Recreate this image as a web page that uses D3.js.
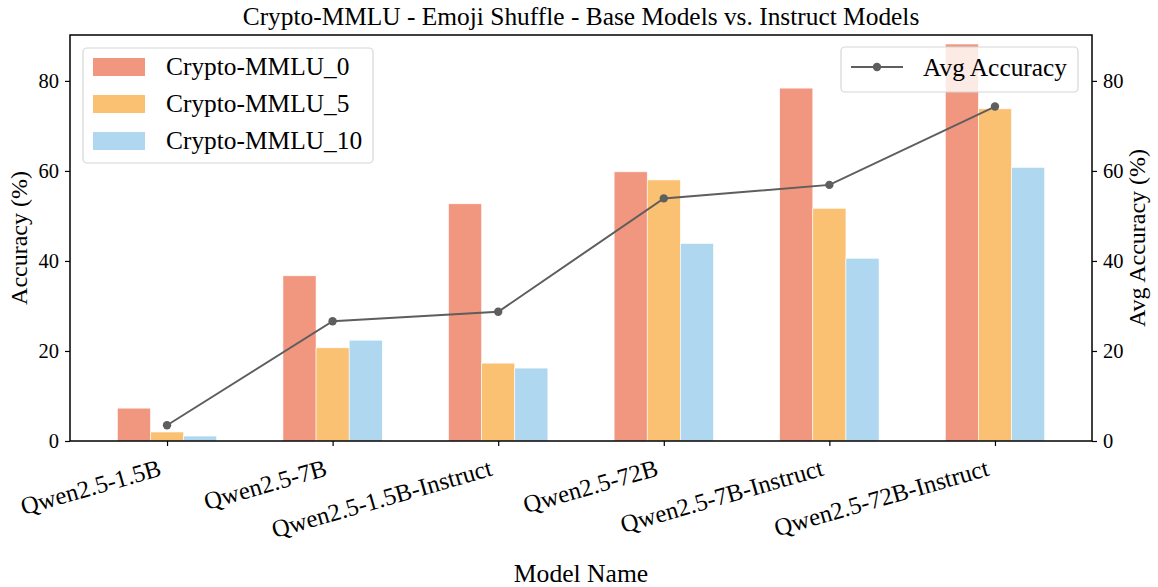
<!DOCTYPE html>
<html>
<head>
<meta charset="utf-8">
<script src="https://cdn.jsdelivr.net/npm/d3@7"></script>
<style>
  html, body { margin: 0; padding: 0; background: #ffffff; }
  svg { display: block; font-family: "Liberation Serif", "Times New Roman", serif; }
</style>
</head>
<body>
<svg id="chart" width="1158" height="587"></svg>
<script>
const models = ["Qwen2.5-1.5B", "Qwen2.5-7B", "Qwen2.5-1.5B-Instruct", "Qwen2.5-72B", "Qwen2.5-7B-Instruct", "Qwen2.5-72B-Instruct"];
const seriesNames = ["Crypto-MMLU_0", "Crypto-MMLU_5", "Crypto-MMLU_10"];
const mmlu0  = [7.3, 36.7, 52.7, 59.8, 78.4, 88.2];
const mmlu5  = [2.0, 20.7, 17.3, 58.0, 51.7, 73.8];
const mmlu10 = [1.1, 22.4, 16.2, 43.9, 40.6, 60.8];
const avgAccuracy = [3.5, 26.6, 28.7, 53.9, 56.9, 74.3];
const yTicks = [0, 20, 40, 60, 80];
const colors = ["#F1977F", "#FBC173", "#AFD7F0"];
const lineColor = "#5E5E5E";

const svg = d3.select("#chart");
const L = 70, R = 1092, T = 35, B = 441;
const x = d3.scaleLinear().domain([-0.586, 5.586]).range([L, R]);
const y = d3.scaleLinear().domain([0, 90.2]).range([B, T]);
const y2 = d3.scaleLinear().domain([0, 90.2]).range([B, T]);
const barW = x(0.2) - x(0);
const series = [mmlu0, mmlu5, mmlu10];

// bars
series.forEach((vals, si) => {
  svg.append("g").selectAll("rect").data(vals).join("rect")
    .attr("x", (d, i) => x(i + (si - 1) * 0.2 - 0.1))
    .attr("y", d => y(d))
    .attr("width", barW)
    .attr("height", d => y(0) - y(d))
    .attr("fill", colors[si])
    .attr("stroke", "#ffffff")
    .attr("stroke-width", 0.6);
});

// line
const lineGen = d3.line().x((d, i) => x(i)).y(d => y2(d));
svg.append("path").datum(avgAccuracy)
  .attr("d", lineGen).attr("fill", "none")
  .attr("stroke", lineColor).attr("stroke-width", 2);
svg.append("g").selectAll("circle").data(avgAccuracy).join("circle")
  .attr("cx", (d, i) => x(i)).attr("cy", d => y2(d)).attr("r", 4.2)
  .attr("fill", lineColor);

// axes
const tickFont = 20.5;
const yAxis = d3.axisLeft(y).tickValues(yTicks).tickSize(5).tickPadding(6).tickFormat(d3.format("d"));
const gy = svg.append("g").attr("transform", `translate(${L},0)`).call(yAxis);
const yAxisR = d3.axisRight(y2).tickValues(yTicks).tickSize(5).tickPadding(6).tickFormat(d3.format("d"));
const gy2 = svg.append("g").attr("transform", `translate(${R},0)`).call(yAxisR);
const xAxis = d3.axisBottom(x).tickValues(d3.range(models.length)).tickSize(5).tickFormat("");
const gx = svg.append("g").attr("transform", `translate(0,${B})`).call(xAxis);
[gy, gy2, gx].forEach(g => {
  g.select(".domain").remove();
  g.selectAll("line").attr("stroke", "#000").attr("stroke-width", 1.2);
  g.selectAll("text").attr("font-family", "Liberation Serif").attr("font-size", tickFont).attr("fill", "#000");
});

// spines
svg.append("rect").attr("x", L).attr("y", T).attr("width", R - L).attr("height", B - T)
  .attr("fill", "none").attr("stroke", "#000").attr("stroke-width", 1.5);

// x tick labels rotated
const xl = svg.append("g");
models.forEach((m, i) => {
  const t = xl.append("text").text(m)
    .attr("font-size", 24.6).attr("text-anchor", "end")
    .attr("transform", "rotate(-16)");
  const bb = t.node().getBoundingClientRect();
  const dx = x(i) - 3 - bb.right;
  const dy = 454 - bb.top;
  t.attr("transform", `translate(${dx},${dy}) rotate(-16)`);
});

// title & labels
svg.append("text").attr("x", (L + R) / 2).attr("y", 25).attr("text-anchor", "middle")
  .attr("font-size", 25.4).text("Crypto-MMLU - Emoji Shuffle - Base Models vs. Instruct Models");
svg.append("text").attr("x", (L + R) / 2).attr("y", 582).attr("text-anchor", "middle")
  .attr("font-size", 25.6).text("Model Name");
svg.append("text").attr("transform", `translate(27,${(T + B) / 2}) rotate(-90)`)
  .attr("text-anchor", "middle").attr("font-size", 24).text("Accuracy (%)");
svg.append("text").attr("transform", `translate(1145,${(T + B) / 2}) rotate(-90)`)
  .attr("text-anchor", "middle").attr("font-size", 24).text("Avg Accuracy (%)");

// legend 1
const lg1 = svg.append("g");
lg1.append("rect").attr("x", 83).attr("y", 48).attr("width", 290).attr("height", 115)
  .attr("rx", 4).attr("fill", "#fff").attr("fill-opacity", 0.8)
  .attr("stroke", "#d6d6d6").attr("stroke-width", 1.2);
seriesNames.forEach((n, i) => {
  const cy = 67 + i * 37;
  lg1.append("rect").attr("x", 93).attr("y", cy - 9).attr("width", 52).attr("height", 18)
    .attr("fill", colors[i]);
  lg1.append("text").attr("x", 166).attr("y", cy + 8).attr("font-size", 25.4).text(n);
});

// legend 2
const lg2 = svg.append("g");
lg2.append("rect").attr("x", 841).attr("y", 47).attr("width", 237).attr("height", 45)
  .attr("rx", 4).attr("fill", "#fff").attr("fill-opacity", 0.8)
  .attr("stroke", "#d6d6d6").attr("stroke-width", 1.2);
lg2.append("line").attr("x1", 851).attr("x2", 903).attr("y1", 67).attr("y2", 67)
  .attr("stroke", lineColor).attr("stroke-width", 2);
lg2.append("circle").attr("cx", 877).attr("cy", 67).attr("r", 4.2).attr("fill", lineColor);
lg2.append("text").attr("x", 923).attr("y", 76).attr("font-size", 25.4).text("Avg Accuracy");
</script>
</body>
</html>
